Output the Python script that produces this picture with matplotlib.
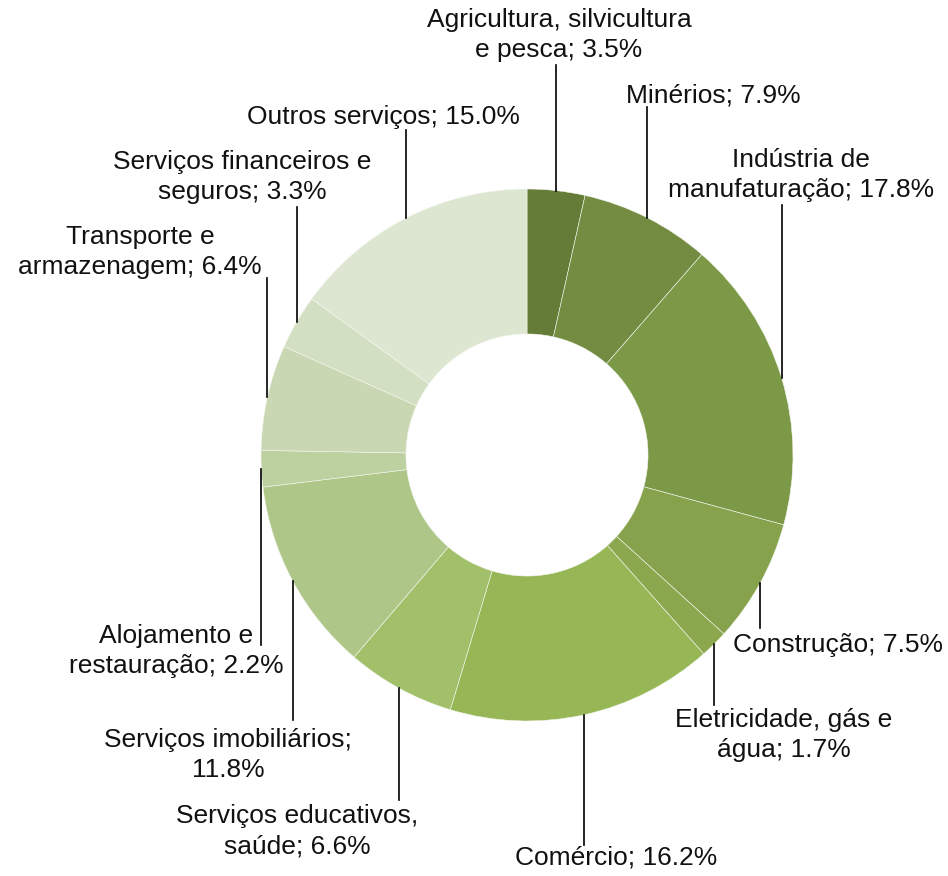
"""Donut chart: composição do PIB por setor."""

import matplotlib

matplotlib.use("Agg")

import matplotlib.pyplot as plt
import numpy as np

sectors = [
    "Agricultura, silvicultura\ne pesca",
    "Minérios",
    "Indústria de\nmanufaturação",
    "Construção",
    "Eletricidade, gás e\nágua",
    "Comércio",
    "Serviços educativos,\nsaúde",
    "Serviços imobiliários;\n",
    "Alojamento e\nrestauração",
    "Transporte e\narmazenagem",
    "Serviços financeiros e\nseguros",
    "Outros serviços",
]
shares = [3.5, 7.9, 17.8, 7.5, 1.7, 16.2, 6.6, 11.8, 2.2, 6.4, 3.3, 15.0]
colors = [
    "#657c38", "#738c42", "#7c9947", "#86a24d", "#8ca84f", "#97b757",
    "#a2bf6a", "#aec788", "#bcd0a0", "#c9d8b2", "#d3dfc2", "#dde6d1",
]

# label layout in image pixels: text centre x, text centre y, leader end y
_LABEL_LAYOUT = [
    (559, 35, 65),
    (713, 95, 107),
    (801, 175, 205),
    (838, 645, 628),
    (784, 735, 705),
    (616, 858, 845),
    (297, 831, 800),
    (228, 755, 720),
    (176, 651, 645),
    (140, 252, 278),
    (242, 177, 207),
    (383, 117, 130),
]

_CX, _CY, _R = 527.0, 455.0, 266.0
_W, _H = 948, 876


def _to_data(px: float, py: float) -> tuple[float, float]:
    return (px - _CX) / _R, (_CY - py) / _R


def _label_text(sector: str, share: float) -> str:
    if sector.endswith(";\n"):
        return f"{sector}{share:.1f}%"
    return f"{sector}; {share:.1f}%"


def main() -> None:
    plt.rcParams["font.family"] = ["Liberation Sans", "DejaVu Sans"]
    figure = plt.figure(figsize=(_W / 100, _H / 100), dpi=100)
    axis = figure.add_axes([0, 0, 1, 1])

    wedges, _ = axis.pie(
        shares,
        colors=colors,
        startangle=90,
        counterclock=False,
        radius=1.0,
        wedgeprops=dict(width=0.545, edgecolor="#f4f7ef", linewidth=0.4),
    )

    for wedge, sector, share, layout in zip(wedges, sectors, shares, _LABEL_LAYOUT):
        mid = np.deg2rad((wedge.theta1 + wedge.theta2) / 2.0)
        x0, y0 = np.cos(mid), np.sin(mid)
        text_x, text_y = _to_data(layout[0], layout[1])
        _, end_y = _to_data(layout[0], layout[2])
        axis.plot([x0, x0], [y0, end_y], color="black", linewidth=1.2, zorder=3)
        axis.text(
            text_x,
            text_y,
            _label_text(sector, share),
            ha="center",
            va="center",
            fontsize=19,
            linespacing=1.32,
            color="#111111",
        )

    x_min, y_max = _to_data(0, 0)
    x_max, y_min = _to_data(_W, _H)
    axis.set_xlim(x_min, x_max)
    axis.set_ylim(y_min, y_max)
    axis.set_aspect("equal")
    axis.set_axis_off()

    figure.savefig("out.png", dpi=100, facecolor="white")
    plt.close(figure)


if __name__ == "__main__":
    main()
